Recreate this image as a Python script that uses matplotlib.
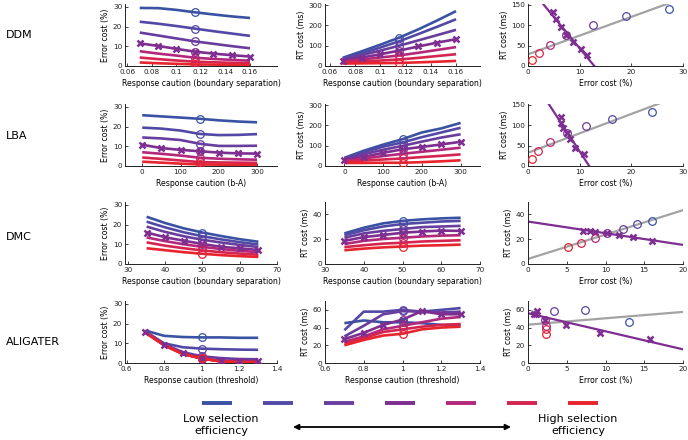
import numpy as np
import matplotlib
matplotlib.use('Agg')
import matplotlib.pyplot as plt

plt.rcParams['font.family'] = ['DejaVu Sans']

# ---------------- colours (low -> high selection efficiency) ----------------
colors = ['#3a52a3', '#5249a6', '#693d9d', '#7e2e90', '#b3287a', '#d62450', '#e8242c']
gray = '#a3a3a3'
CROSS = 3  # index of the series drawn with crosses

# ---------------- DDM ----------------
ddm_x = [0.07, 0.085, 0.1, 0.115, 0.13, 0.145, 0.16]
ddm_err = [
    [29.5, 29.4, 28.5, 27.3, 26.2, 25.2, 24.4],
    [22.5, 21.5, 20.3, 19.0, 17.7, 16.5, 15.3],
    [17.0, 15.5, 14.0, 12.5, 11.3, 10.1, 9.0],
    [11.5, 10.2, 8.7, 7.3, 6.3, 5.5, 4.8],
    [7.5, 6.3, 5.3, 4.2, 3.6, 3.1, 2.7],
    [4.3, 3.5, 2.8, 2.2, 1.9, 1.6, 1.4],
    [1.8, 1.4, 1.1, 0.8, 0.7, 0.6, 0.5],
]
ddm_rt = [
    [40, 72, 105, 140, 180, 224, 270],
    [36, 62, 91, 122, 157, 193, 230],
    [32, 53, 76, 100, 126, 152, 178],
    [27, 41, 58, 76, 96, 115, 132],
    [22, 32, 42, 52, 65, 79, 93],
    [17, 22, 27, 32, 40, 49, 58],
    [12, 13, 14, 15, 18, 21, 25],
]
ddm_sel = 3  # index of the reference caution (circles)

# ---------------- LBA ----------------
lba_x = [0, 50, 100, 150, 200, 250, 300]
lba_err = [
    [25.8, 25.2, 24.6, 24.0, 23.2, 22.6, 22.2],
    [19.5, 19.0, 18.0, 16.3, 15.7, 15.8, 16.2],
    [14.5, 14.0, 13.2, 11.3, 10.2, 10.2, 10.3],
    [10.8, 9.1, 8.2, 7.5, 6.8, 6.4, 6.3],
    [7.0, 6.2, 5.3, 4.2, 3.7, 3.4, 3.2],
    [4.3, 3.6, 2.8, 2.0, 1.8, 1.7, 1.6],
    [2.2, 1.7, 1.2, 0.8, 0.7, 0.6, 0.6],
]
lba_rt = [
    [40, 75, 105, 132, 165, 185, 212],
    [37, 68, 95, 116, 142, 165, 188],
    [34, 58, 80, 99, 120, 140, 156],
    [29, 45, 65, 82, 94, 106, 119],
    [25, 37, 49, 60, 70, 80, 90],
    [20, 27, 32, 37, 44, 50, 57],
    [15, 15, 16, 16, 19, 23, 28],
]
lba_sel = 3

# ---------------- DMC ----------------
dmc_x = [35, 40, 45, 50, 55, 60, 65]
dmc_err = [
    [24.0, 20.8, 18.1, 16.0, 14.2, 12.6, 11.3],
    [21.5, 18.6, 16.1, 14.1, 12.5, 11.1, 9.9],
    [19.0, 16.3, 14.1, 12.3, 10.9, 9.7, 8.6],
    [16.0, 13.6, 11.8, 10.2, 8.7, 8.0, 7.1],
    [13.5, 11.6, 10.0, 8.7, 7.6, 6.7, 6.0],
    [11.0, 9.3, 8.0, 6.9, 6.0, 5.3, 4.7],
    [8.0, 7.0, 6.0, 5.2, 4.5, 4.0, 3.6],
]
dmc_rt = [
    [24.5, 29.0, 32.5, 34.5, 35.7, 36.5, 37.0],
    [23.0, 27.0, 30.0, 32.0, 33.0, 34.0, 34.5],
    [21.0, 24.5, 26.5, 28.0, 29.5, 30.0, 30.5],
    [18.5, 21.5, 23.2, 25.0, 26.0, 26.7, 26.5],
    [16.0, 18.5, 20.0, 21.0, 22.0, 22.7, 23.0],
    [13.5, 15.0, 16.3, 17.0, 18.0, 18.5, 19.0],
    [11.0, 12.3, 13.3, 14.0, 14.7, 15.0, 15.5],
]
dmc_sel = 3

# ---------------- ALIGATER ----------------
ali_x = [0.7, 0.8, 0.9, 1.0, 1.1, 1.2, 1.3]
ali_err = [
    [16.5, 13.8, 13.2, 13.0, 13.0, 12.8, 12.8],
    [16.0, 10.0, 8.0, 7.3, 7.0, 6.8, 6.7],
    [16.0, 9.5, 5.5, 3.4, 2.5, 2.0, 1.9],
    [15.7, 9.3, 4.9, 2.2, 1.2, 1.0, 0.8],
    [15.5, 9.2, 4.7, 2.3, 1.0, 0.7, 0.6],
    [15.5, 9.0, 4.5, 2.3, 0.8, 0.5, 0.4],
    [15.5, 9.0, 4.5, 2.3, 0.7, 0.4, 0.3],
]
ali_rt = [
    [45, 48, 46, 46, 45, 43, 43],
    [37, 58, 58, 60, 58, 60, 62],
    [30, 42, 55, 58.5, 58, 57, 58],
    [27, 34, 43, 49, 58.6, 55, 55],
    [24, 30, 38, 42, 46, 50, 52],
    [22, 28, 35, 38, 41, 43, 44],
    [20, 26, 31, 33, 38, 40, 41],
]
ali_sel = 3

rows = [
    dict(name='DDM', x=ddm_x, err=ddm_err, rt=ddm_rt, sel=ddm_sel,
         xlab='Response caution (boundary separation)',
         xlim1=(0.058, 0.182), xlim2=(0.056, 0.179),
         xt=[0.06, 0.08, 0.1, 0.12, 0.14, 0.16], xtl=['0.06', '0.08', '0.1', '0.12', '0.14', '0.16'],
         ylim2=(0, 305), yt2=[0, 100, 200, 300], ylim3=(0, 152), yt3=[0, 50, 100, 150],
         xlim3=(0, 30), xt3=[0, 10, 20, 30]),
    dict(name='LBA', x=lba_x, err=lba_err, rt=lba_rt, sel=lba_sel,
         xlab='Response caution (b-A)',
         xlim1=(-45, 352), xlim2=(-50, 350),
         xt=[0, 100, 200, 300], xtl=['0', '100', '200', '300'],
         ylim2=(0, 305), yt2=[0, 100, 200, 300], ylim3=(0, 152), yt3=[0, 50, 100, 150],
         xlim3=(0, 30), xt3=[0, 10, 20, 30]),
    dict(name='DMC', x=dmc_x, err=dmc_err, rt=dmc_rt, sel=dmc_sel,
         xlab='Response caution (boundary separation)',
         xlim1=(29.2, 70), xlim2=(30, 70),
         xt=[30, 40, 50, 60, 70], xtl=['30', '40', '50', '60', '70'],
         ylim2=(0, 49.6), yt2=[0, 20, 40], ylim3=(0, 49.6), yt3=[0, 20, 40],
         xlim3=(0, 20), xt3=[0, 5, 10, 15, 20]),
    dict(name='ALIGATER', x=ali_x, err=ali_err, rt=ali_rt, sel=ali_sel,
         xlab='Response caution (threshold)',
         xlim1=(0.592, 1.4), xlim2=(0.6, 1.4),
         xt=[0.6, 0.8, 1.0, 1.2, 1.4], xtl=['0.6', '0.8', '1', '1.2', '1.4'],
         ylim2=(0, 70), yt2=[0, 20, 40, 60], ylim3=(0, 70), yt3=[0, 20, 40, 60],
         xlim3=(0, 20), xt3=[0, 5, 10, 15, 20]),
]

W, H = 688, 440
fig = plt.figure(figsize=(W / 100, H / 100), dpi=100)

cols_px = [(125, 277), (325, 480), (528, 683)]
rows_px = [(4, 66), (104, 166), (202, 264), (301, 363)]
name_y = [35, 136, 237, 342]


def add_ax(l, t, r, b):
    return fig.add_axes([l / W, 1 - b / H, (r - l) / W, (b - t) / H])


def style(ax):
    for s in ['top', 'right']:
        ax.spines[s].set_visible(False)
    for s in ['left', 'bottom']:
        ax.spines[s].set_linewidth(0.7)
        ax.spines[s].set_color('#222222')
    ax.tick_params(direction='in', length=2.5, width=0.6, labelsize=5.2, pad=2, colors='#222222')


LW = 1.9
for ri, row in enumerate(rows):
    t, b = rows_px[ri]
    x = np.array(row['x'])
    err = np.array(row['err'])
    rt = np.array(row['rt'])
    s = row['sel']

    # column 1: error cost
    ax1 = add_ax(cols_px[0][0], t, cols_px[0][1], b)
    for i in range(7):
        ax1.plot(x, err[i], color=colors[i], lw=LW, solid_capstyle='butt', zorder=2)
    ax1.plot(x, err[CROSS], ls='none', marker='x', ms=4.5, mew=1.8, color=colors[CROSS], zorder=3)
    for i in range(7):
        ax1.plot(x[s], err[i][s], ls='none', marker='o', ms=5.5, mfc='none', mec=colors[i], mew=0.9, zorder=4)
    ax1.set_xlim(*row['xlim1'])
    ax1.set_ylim(0, 31.5)
    ax1.set_yticks([0, 10, 20, 30])
    ax1.set_xticks(row['xt'])
    ax1.set_xticklabels(row['xtl'])
    ax1.set_xlabel(row['xlab'], fontsize=5.6, labelpad=3)
    ax1.set_ylabel('Error cost (%)', fontsize=5.6, labelpad=2)
    style(ax1)

    # column 2: RT cost
    ax2 = add_ax(cols_px[1][0], t, cols_px[1][1], b)
    for i in range(7):
        ax2.plot(x, rt[i], color=colors[i], lw=LW, solid_capstyle='butt', zorder=2)
    ax2.plot(x, rt[CROSS], ls='none', marker='x', ms=4.5, mew=1.8, color=colors[CROSS], zorder=3)
    for i in range(7):
        ax2.plot(x[s], rt[i][s], ls='none', marker='o', ms=5.5, mfc='none', mec=colors[i], mew=0.9, zorder=4)
    ax2.set_xlim(*row['xlim2'])
    ax2.set_ylim(*row['ylim2'])
    ax2.set_yticks(row['yt2'])
    ax2.set_xticks(row['xt'])
    ax2.set_xticklabels(row['xtl'])
    ax2.set_xlabel(row['xlab'], fontsize=5.6, labelpad=3)
    ax2.set_ylabel('RT cost (ms)', fontsize=5.6, labelpad=2)
    style(ax2)

    # column 3: RT cost vs error cost with linear fits
    ax3 = add_ax(cols_px[2][0], t, cols_px[2][1], b)
    ce = err[:, s]
    cr = rt[:, s]
    xe = err[CROSS]
    xr = rt[CROSS]
    xx = np.linspace(row['xlim3'][0], row['xlim3'][1], 50)
    pg = np.polyfit(ce, cr, 1)
    pp = np.polyfit(xe, xr, 1)
    ax3.plot(xx, np.polyval(pg, xx), color=gray, lw=1.6, zorder=2)
    ax3.plot(xx, np.polyval(pp, xx), color=colors[CROSS], lw=1.6, zorder=2)
    ax3.plot(xe, xr, ls='none', marker='x', ms=4.5, mew=1.8, color=colors[CROSS], zorder=3)
    for i in range(7):
        ax3.plot(ce[i], cr[i], ls='none', marker='o', ms=5.5, mfc='none', mec=colors[i], mew=0.9, zorder=4)
    ax3.set_xlim(*row['xlim3'])
    ax3.set_ylim(*row['ylim3'])
    ax3.set_xticks(row['xt3'])
    ax3.set_yticks(row['yt3'])
    ax3.set_xlabel('Error cost (%)', fontsize=5.6, labelpad=3)
    ax3.set_ylabel('RT cost (ms)', fontsize=5.6, labelpad=2)
    style(ax3)

    fig.text(6 / W, 1 - name_y[ri] / H, row['name'], fontsize=8, ha='left', va='center')

# ---------------- legend strip ----------------
lg = fig.add_axes([0, 0, 1, 1], zorder=-1)
lg.set_xlim(0, W)
lg.set_ylim(H, 0)
lg.axis('off')
for i, c in enumerate(colors):
    cx = 217 + 61 * i
    lg.plot([cx - 15, cx + 15], [403, 403], color=c, lw=2.8, solid_capstyle='butt')
lg.annotate('', xy=(293, 427), xytext=(511, 427),
            arrowprops=dict(arrowstyle='<|-|>', color='black', lw=1.3, mutation_scale=8, shrinkA=0, shrinkB=0))
lg.text(221, 425, 'Low selection\nefficiency', fontsize=8, ha='center', va='center', linespacing=1.15)
lg.text(578, 425, 'High selection\nefficiency', fontsize=8, ha='center', va='center', linespacing=1.15)

fig.savefig('out.png', dpi=100)
